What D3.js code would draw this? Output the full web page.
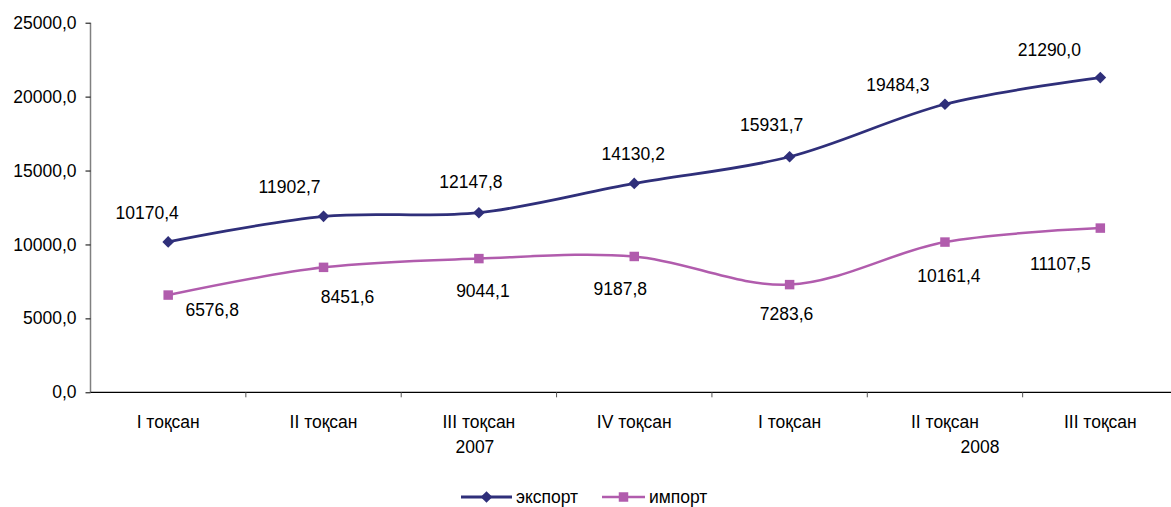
<!DOCTYPE html>
<html>
<head>
<meta charset="utf-8">
<script src="https://cdn.jsdelivr.net/npm/d3@7"></script>
<style>
  body { margin: 0; background: #fff; }
  text { font-family: "Liberation Sans", Arial, sans-serif; fill: #000; }
</style>
</head>
<body>
<div id="chart"></div>
<script>
// data
const quarters = ["I тоқсан", "II тоқсан", "III тоқсан", "IV тоқсан", "I тоқсан", "II тоқсан", "III тоқсан"];
const years = [{ label: "2007", at: 2, shift: -4 }, { label: "2008", at: 5, shift: 35 }];
const exportValues = [10170.4, 11902.7, 12147.8, 14130.2, 15931.7, 19484.3, 21290.0];
const importValues = [6576.8, 8451.6, 9044.1, 9187.8, 7283.6, 10161.4, 11107.5];
const yTicks = [0, 5000, 10000, 15000, 20000, 25000];

// label offsets relative to each point
const exportLabelOffset = [[-21, -29], [-34, -29], [-8, -31], [-1, -30], [-18, -32], [-47, -19], [-51, -28]];
const importLabelOffset = [[44, 15], [24, 30], [4, 32], [-14, 32], [-3, 29], [4, 34], [-40, 36]];

const width = 1171, height = 507;
const exportColor = "#2f2f7a", importColor = "#b15cad";
const fontSize = "17.5px";

const svg = d3.select("#chart").append("svg")
  .attr("width", width)
  .attr("height", height);

// scales
const x = d3.scaleBand()
  .domain(d3.range(quarters.length))
  .range([90.5, 1178]);

const y = d3.scaleLinear()
  .domain([0, 25000])
  .range([392.3, 22.7]);

const fmt = d => d.toFixed(1).replace(".", ",");

// y axis
const yAxis = svg.append("g")
  .attr("transform", "translate(90.5,0)")
  .call(d3.axisLeft(y).tickValues(yTicks).tickFormat(fmt).tickSize(5).tickPadding(9));
yAxis.select(".domain").attr("stroke", "#808080").attr("stroke-width", 1.5).attr("d", `M0,${y(0)}V${y(25000)}`);
yAxis.selectAll(".tick line").attr("stroke", "#000");
yAxis.selectAll(".tick text").style("font-size", fontSize).attr("font-family", null);

// x axis
const xAxis = svg.append("g");
xAxis.append("line")
  .attr("x1", 90.5).attr("x2", width)
  .attr("y1", y(0)).attr("y2", y(0))
  .attr("stroke", "#000").attr("stroke-width", 1.3);
xAxis.selectAll(".xtick")
  .data(d3.range(1, quarters.length))
  .join("line")
  .attr("x1", d => x(d)).attr("x2", d => x(d))
  .attr("y1", y(0)).attr("y2", y(0) + 5)
  .attr("stroke", "#555");
xAxis.selectAll(".qlabel")
  .data(quarters)
  .join("text")
  .attr("x", (d, i) => x(i) + x.bandwidth() / 2)
  .attr("y", 427.5)
  .attr("text-anchor", "middle")
  .style("font-size", fontSize)
  .text(d => d);
xAxis.selectAll(".ylabel")
  .data(years)
  .join("text")
  .attr("x", d => x(d.at) + x.bandwidth() / 2 + d.shift)
  .attr("y", 452.5)
  .attr("text-anchor", "middle")
  .style("font-size", fontSize)
  .text(d => d.label);

// lines
const line = d3.line()
  .x((d, i) => x(i) + x.bandwidth() / 2)
  .y(d => y(d))
  .curve(d3.curveCardinal.tension(0));

svg.append("path")
  .datum(importValues)
  .attr("fill", "none")
  .attr("stroke", importColor)
  .attr("stroke-width", 2.5)
  .attr("d", line);

svg.append("path")
  .datum(exportValues)
  .attr("fill", "none")
  .attr("stroke", exportColor)
  .attr("stroke-width", 2.8)
  .attr("d", line);

// markers
const diamond = d3.symbol().type(d3.symbolSquare).size(68);
svg.selectAll(".exp")
  .data(exportValues)
  .join("path")
  .attr("d", diamond)
  .attr("fill", exportColor)
  .attr("transform", (d, i) => `translate(${x(i) + x.bandwidth() / 2},${y(d)}) rotate(45)`);

const square = d3.symbol().type(d3.symbolSquare).size(90);
svg.selectAll(".imp")
  .data(importValues)
  .join("path")
  .attr("d", square)
  .attr("fill", importColor)
  .attr("transform", (d, i) => `translate(${x(i) + x.bandwidth() / 2},${y(d)})`);

// data labels
svg.selectAll(".explabel")
  .data(exportValues)
  .join("text")
  .attr("x", (d, i) => x(i) + x.bandwidth() / 2 + exportLabelOffset[i][0])
  .attr("y", (d, i) => y(d) + exportLabelOffset[i][1])
  .attr("dy", "0.35em")
  .attr("text-anchor", "middle")
  .style("font-size", fontSize)
  .text(fmt);

svg.selectAll(".implabel")
  .data(importValues)
  .join("text")
  .attr("x", (d, i) => x(i) + x.bandwidth() / 2 + importLabelOffset[i][0])
  .attr("y", (d, i) => y(d) + importLabelOffset[i][1])
  .attr("dy", "0.35em")
  .attr("text-anchor", "middle")
  .style("font-size", fontSize)
  .text(fmt);

// legend
const legend = svg.append("g");
const items = [
  { name: "экспорт", color: exportColor, x1: 461, x2: 512, sym: diamond, rot: 45, w: 2.8 },
  { name: "импорт", color: importColor, x1: 602, x2: 645, sym: square, rot: 0, w: 2.5 }
];
items.forEach(it => {
  const ly = 497;
  legend.append("line")
    .attr("x1", it.x1).attr("x2", it.x2)
    .attr("y1", ly).attr("y2", ly)
    .attr("stroke", it.color).attr("stroke-width", it.w);
  legend.append("path")
    .attr("d", it.sym)
    .attr("fill", it.color)
    .attr("transform", `translate(${(it.x1 + it.x2) / 2},${ly}) rotate(${it.rot})`);
  legend.append("text")
    .attr("x", it.x2 + 4)
    .attr("y", ly)
    .attr("dy", "0.35em")
    .style("font-size", fontSize)
    .text(it.name);
});
</script>
</body>
</html>
